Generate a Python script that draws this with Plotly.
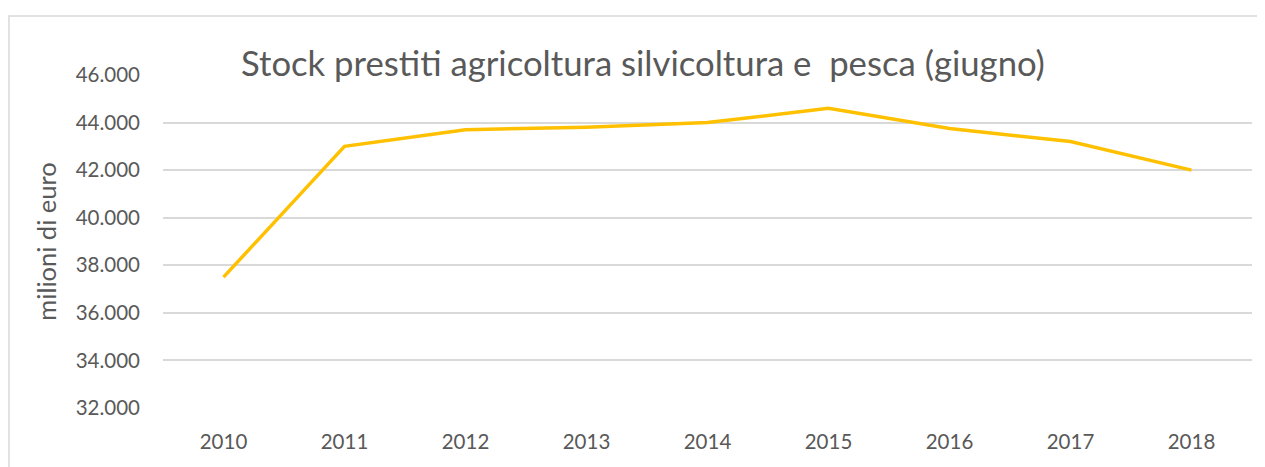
import plotly.graph_objects as go

years = ["2010", "2011", "2012", "2013", "2014", "2015", "2016", "2017", "2018"]
stock = [37500, 43000, 43700, 43800, 44000, 44600, 43750, 43200, 42000]
y_ticks = [32000, 34000, 36000, 38000, 40000, 42000, 44000, 46000]
y_tick_labels = ["32.000", "34.000", "36.000", "38.000", "40.000", "42.000", "44.000", "46.000"]

# page body has an 8px margin; figure is sized/offset to compensate
OFF = 8
W, H = 1265 - OFF, 467 - OFF
L, R, T, B = 163 - OFF, 13, 75 - OFF, 59
pw, ph = W - L - R, H - T - B

fig = go.Figure()
fig.add_trace(go.Scatter(x=years, y=stock, mode="lines",
                         line=dict(color="#FFC000", width=3.5), showlegend=False))

font_fam = "Lato, Open Sans, sans-serif"
fig.update_layout(
    width=W, height=H,
    margin=dict(l=L, r=R, t=T, b=B, autoexpand=False),
    paper_bgcolor="white", plot_bgcolor="white",
    font=dict(family=font_fam, color="#595959"),
    xaxis=dict(type="category", range=[-0.5, 8.5], showgrid=False, showline=False,
               zeroline=False, tickfont=dict(size=20.5, color="#595959"),
               ticklabelstandoff=19),
    yaxis=dict(range=[32000, 46000], tickvals=y_ticks, ticktext=y_tick_labels,
               showgrid=True, gridcolor="#d9d9d9", gridwidth=1.5, zeroline=False,
               showline=False, tickfont=dict(size=20.5, color="#595959"),
               ticklabelstandoff=22,
               title=dict(text="milioni di euro", font=dict(size=25.5, color="#595959"), standoff=11)),
    shapes=[dict(type="rect", xref="paper", yref="paper",
                 x0=(9 - OFF - L) / pw, x1=(W + 20 - L) / pw,
                 y0=-(H + 20 - T - ph) / ph, y1=1 + (T - (16 - OFF)) / ph,
                 line=dict(color="#d9d9d9", width=1.5), fillcolor="rgba(0,0,0,0)", layer="below")],
    annotations=[dict(text="Stock prestiti agricoltura silvicoltura e&nbsp; pesca (giugno)",
                      xref="paper", yref="paper", x=(643 - OFF - L) / pw, y=1 + 13 / ph,
                      xanchor="center", yanchor="middle", showarrow=False,
                      font=dict(size=34.7, color="#595959", family=font_fam))],
)

fig.write_html("out.html")
